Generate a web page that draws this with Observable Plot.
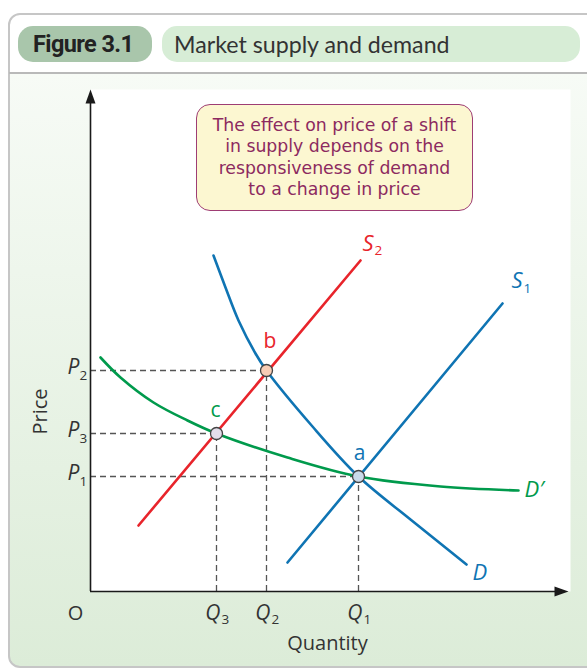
<!DOCTYPE html>
<html><head><meta charset="utf-8">
<script src="https://cdn.jsdelivr.net/npm/d3@7"></script>
<script src="https://cdn.jsdelivr.net/npm/@observablehq/plot@0.6"></script>
<style>
html,body{margin:0;padding:0;background:#fff;}
#page{position:relative;width:587px;height:668px;overflow:hidden;font-family:"Open Sans",sans-serif;}
#frame{position:absolute;left:8px;top:13px;width:620px;height:655px;box-sizing:border-box;border:2px solid #c6c6c6;border-radius:12px;
  background:linear-gradient(to bottom,#ffffff 0,#ffffff 58px,#f7fbf6 58px,#dcecd8 100%);}
#rule{position:absolute;left:9px;top:72px;width:600px;height:2px;background:#b9b9b9;}
.pill{position:absolute;top:26px;height:36px;border-radius:15px;box-sizing:border-box;white-space:nowrap;line-height:36px;}
#pill1{left:18px;width:134px;background:#a9c6ab;padding-left:15px;font-family:"Roboto",sans-serif;font-weight:700;font-size:23.5px;color:#222;letter-spacing:-0.6px;}
#pill2{left:162px;width:418px;background:#d7edd6;padding-left:12px;font-family:"Lato",sans-serif;font-size:23.2px;color:#333;}
#note{position:absolute;left:196px;top:104px;width:277px;height:107px;box-sizing:border-box;border:1.5px solid #9e3d74;border-radius:14px;
  background:#fcf7d1;color:#8c2a60;font-family:"DejaVu Sans",sans-serif;font-size:17.3px;line-height:21.3px;text-align:center;padding-top:10px;}
#chart{position:absolute;left:0;top:74px;}
</style></head>
<body><div id="page">
<div id="frame"></div>
<div id="rule"></div>
<div class="pill" id="pill1">Figure 3.1</div>
<div class="pill" id="pill2">Market supply and demand</div>
<div id="chart"></div>
<div id="note">The effect on price of a shift<br>in supply depends on the<br>responsiveness of demand<br>to a change in price</div>
</div>
<script>
// Equilibrium points (quantity, price) in chart units
const pointNames = ["a", "b", "c"];
const pointQ = [268, 176, 126];
const pointP = [115, 221, 158];
const qSubs = ["1", "2", "3"];
const pSubs = ["1", "2", "3"];

// Supply curves
const s1Q = [197, 412];
const s1P = [29, 288];
const s2Q = [48, 270];
const s2P = [66, 331];
// Demand curves
const dQ = [123, 135, 148, 165, 176, 222, 268, 320, 376];
const dP = [336, 304, 271, 238, 221, 165, 115, 72, 27];
const d2Q = [10, 30, 63, 97, 126, 197, 268, 350, 428];
const d2P = [234, 214, 189, 171, 158, 134, 115, 105, 101];

const curveNames = ["S1", "S2", "D", "D′"];
const curveLetters = ["S", "S", "D", "D′"];
const curveSubs = ["1", "2", "", ""];

const BLUE = "#0f74b3", RED = "#e8242b", GREEN = "#009a4c", INK = "#333";
const FONT = "Open Sans, sans-serif";

const toPts = (qs, ps) => qs.map((q, i) => ({q, p: ps[i]}));
const pts = pointNames.map((name, i) => ({name, q: pointQ[i], p: pointP[i], qSub: qSubs[i], pSub: pSubs[i]}));
const curves = {
  "S1": toPts(s1Q, s1P), "S2": toPts(s2Q, s2P), "D": toPts(dQ, dP), "D′": toPts(d2Q, d2P)
};
const curveColor = {"S1": BLUE, "S2": RED, "D": BLUE, "D′": GREEN};
const labelOff = {"S1": [9, -23, 21, -15], "S2": [2, -17, 14, -10], "D": [6, 8, 0, 0], "D′": [6, -1, 0, 0]};
const pointStyle = {
  a: {fill: "#c9d9ea", color: BLUE, dx: 1, dy: -23},
  b: {fill: "#f7cdb5", color: RED, dx: 3.5, dy: -29},
  c: {fill: "#e3ddea", color: GREEN, dx: -1, dy: -23}
};
const arrowSym = {draw(ctx) { ctx.moveTo(0, 0); ctx.lineTo(5, 14); ctx.lineTo(-5, 14); ctx.closePath(); }};

const marks = [
  Plot.frame({fill: "white", stroke: "none"}),
  Plot.ruleY(pts, {y: "p", x1: 0, x2: "q", stroke: "#555", strokeWidth: 1.3, strokeDasharray: "6,4"}),
  Plot.ruleX(pts, {x: "q", y1: 0, y2: "p", stroke: "#555", strokeWidth: 1.3, strokeDasharray: "6,4"}),
  Plot.ruleX([0], {y1: 0, y2: 492, stroke: "#1a1a1a", strokeWidth: 1.6}),
  Plot.ruleY([0], {x1: 0, x2: 468, stroke: "#1a1a1a", strokeWidth: 1.6}),
  Plot.dot([{q: 0, p: 502}], {x: "q", y: "p", symbol: arrowSym, fill: "#1a1a1a", stroke: "none"}),
  Plot.dot([{q: 478, p: 0}], {x: "q", y: "p", symbol: arrowSym, rotate: 90, fill: "#1a1a1a", stroke: "none"})
];
for (const name of ["D′", "D", "S1", "S2"]) {
  marks.push(Plot.line(curves[name], {x: "q", y: "p", stroke: curveColor[name], strokeWidth: 2.6, curve: "catmull-rom"}));
}
curveNames.forEach((name, i) => {
  const end = curves[name][curves[name].length - 1];
  const [dx, dy, sdx, sdy] = labelOff[name];
  marks.push(Plot.text([end], {x: "q", y: "p", text: () => curveLetters[i], dx, dy, textAnchor: "start",
    fontSize: 22, fontStyle: "italic", fill: curveColor[name], fontFamily: FONT}));
  if (curveSubs[i]) marks.push(Plot.text([end], {x: "q", y: "p", text: () => curveSubs[i], dx: sdx, dy: sdy, textAnchor: "start",
    fontSize: 13.5, fill: curveColor[name], fontFamily: FONT}));
});
for (const d of pts) {
  const st = pointStyle[d.name];
  marks.push(Plot.dot([d], {x: "q", y: "p", r: 6, fill: st.fill, stroke: "#444", strokeWidth: 1.3}));
  marks.push(Plot.text([d], {x: "q", y: "p", text: "name", dx: st.dx, dy: st.dy, fill: st.color, fontSize: 21, fontFamily: FONT}));
}
marks.push(
  Plot.text(pts, {x: 0, y: "p", text: () => "P", textAnchor: "end", dx: -11, dy: -3, fontSize: 21, fontStyle: "italic", fill: INK, fontFamily: FONT}),
  Plot.text(pts, {x: 0, y: "p", text: "pSub", textAnchor: "start", dx: -11, dy: 5, fontSize: 13.5, fill: INK, fontFamily: FONT}),
  Plot.text(pts, {x: "q", y: 0, text: () => "Q", textAnchor: "end", dx: 4, dy: 21.5, fontSize: 21, fontStyle: "italic", fill: INK, fontFamily: FONT}),
  Plot.text(pts, {x: "q", y: 0, text: "qSub", textAnchor: "start", dx: 5, dy: 28, fontSize: 13.5, fill: INK, fontFamily: FONT}),
  Plot.text(["O"], {x: 0, y: 0, text: d => d, dx: -15, dy: 22, fontSize: 20, fill: INK, fontFamily: FONT}),
  Plot.text(["Price"], {x: 0, y: 180, text: d => d, dx: -50, rotate: -90, fontSize: 20, fill: INK, fontFamily: FONT}),
  Plot.text(["Quantity"], {x: 237, y: 0, text: d => d, dy: 52, fontSize: 20, fill: INK, fontFamily: FONT})
);

const chart = Plot.plot({
  width: 587, height: 594,
  marginLeft: 90, marginRight: 17, marginTop: 15, marginBottom: 77,
  x: {domain: [0, 480], axis: null},
  y: {domain: [0, 502], axis: null},
  style: {background: "transparent", overflow: "visible"},
  marks
});
document.getElementById("chart").appendChild(chart);
</script>
</body></html>
